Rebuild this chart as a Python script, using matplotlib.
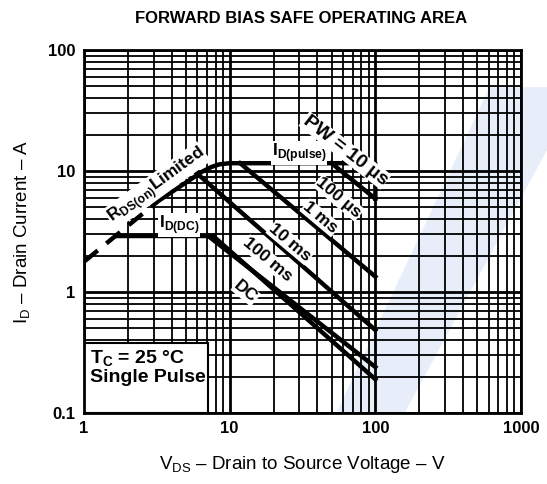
import matplotlib
matplotlib.use("Agg")
import matplotlib.pyplot as plt
from matplotlib.patches import Rectangle, Polygon
from matplotlib.ticker import LogLocator, FixedLocator, NullFormatter

plt.rcParams["font.family"] = ["Liberation Sans", "DejaVu Sans"]
plt.rcParams["mathtext.fontset"] = "custom"
plt.rcParams["mathtext.rm"] = "Liberation Sans"
plt.rcParams["mathtext.bf"] = "Liberation Sans:bold"

# ── Data (V in volts, I in amps) ──────────────────────────────────────────────
rds_dash_v = [1.0, 3.2]
rds_dash_i = [1.78, 5.6]

envelope_v = [3.2, 6.5, 7.5, 8.5, 10.0, 100.0, 100.0]
envelope_i = [5.6, 9.9, 10.8, 11.35, 11.6, 11.6, 5.9]

id_dc_v = [1.65, 7.7]
id_dc_i = [2.9, 2.9]

curves = {
    "100us": ([50.0, 100.0], [11.6, 5.9]),
    "1ms": ([11.8, 100.0], [11.6, 1.34]),
    "10ms": ([5.6, 100.0], [10.2, 0.485]),
    "100ms": ([7.0, 100.0], [2.95, 0.24]),
    "DC": ([7.7, 100.0], [2.9, 0.19]),
}

x_ticks = [1, 10, 100, 1000]
x_tick_labels = ["1", "10", "100", "1000"]
y_ticks = [0.1, 1, 10, 100]
y_tick_labels = ["0.1", "1", "10", "100"]

fig = plt.figure(figsize=(5.47, 4.84), dpi=100)
ax = fig.add_axes([0.1536, 0.1467, 0.7989, 0.75])

# faint watermark from the scan
wm = Polygon([(0.895, 0.82), (1.0, 0.82), (1.0, 0.69), (0.74, 0.147), (0.615, 0.147)],
             closed=True, transform=fig.transFigure, facecolor="#e8eef9",
             edgecolor="none", zorder=0.1, clip_on=False)
ax.add_patch(wm)

ax.set_xscale("log")
ax.set_yscale("log")
ax.set_xlim(1, 1000)
ax.set_ylim(0.1, 100)

ax.xaxis.set_major_locator(FixedLocator(x_ticks))
ax.yaxis.set_major_locator(FixedLocator(y_ticks))
ax.set_xticklabels(x_tick_labels, fontsize=12, fontweight="bold")
ax.set_yticklabels(y_tick_labels, fontsize=12, fontweight="bold")
ax.xaxis.set_minor_locator(LogLocator(base=10, subs=range(2, 10)))
ax.yaxis.set_minor_locator(LogLocator(base=10, subs=range(2, 10)))
ax.xaxis.set_minor_formatter(NullFormatter())
ax.yaxis.set_minor_formatter(NullFormatter())
ax.tick_params(which="both", length=0, pad=6)

ax.set_axisbelow(True)
ax.grid(which="major", color="black", linewidth=2.0)
ax.grid(which="minor", color="black", linewidth=1.3)
for s in ax.spines.values():
    s.set_linewidth(2.0)

# conditions box
ax.add_patch(Rectangle((1.0, 0.1), 6.1, 0.28, facecolor="white",
                       edgecolor="black", linewidth=1.5, zorder=2))
ax.text(1.1, 0.24, "T$_\\mathregular{C}$ = 25 °C\nSingle Pulse",
        fontsize=14, fontweight="bold", va="center", ha="left",
        linespacing=1.0, zorder=3)

# curves
lw = 3.2
ax.plot(rds_dash_v, rds_dash_i, color="black", lw=lw, ls=(0, (4, 2.5)), zorder=4)
ax.plot(envelope_v, envelope_i, color="black", lw=lw, zorder=4)
ax.plot(id_dc_v, id_dc_i, color="black", lw=lw, zorder=4)
for name, (v, i) in curves.items():
    ax.plot(v, i, color="black", lw=lw, zorder=4)

box = dict(facecolor="white", edgecolor="none", pad=0.5)
lab = dict(fontsize=12.5, fontweight="bold", ha="center", va="center",
           bbox=box, zorder=5)

ax.text(3.15, 7.6, "R$_\\mathregular{DS(on)}$Limited", rotation=36, **lab)
ax.text(4.5, 3.6, "I$_\\mathregular{D(DC)}$", **lab)
ax.text(30, 14.1, "I$_\\mathregular{D(pulse)}$", **lab)
ax.text(62, 14.8, "PW = 10 µs", rotation=-38, **dict(lab, fontsize=14))
ax.text(56, 6.0, "100 µs", rotation=-40, **lab)
ax.text(42, 4.1, "1 ms", rotation=-40, **lab)
ax.text(26, 2.55, "10 ms", rotation=-40, **lab)
ax.text(18.3, 1.84, "100 ms", rotation=-40, **lab)
ax.text(12.9, 1.0, "DC", rotation=-40, **lab)

ax.set_xlabel("V$_\\mathregular{DS}$ – Drain to Source Voltage – V",
              fontsize=13.5, labelpad=13)
ax.set_ylabel("I$_\\mathregular{D}$ – Drain Current – A", fontsize=13.5,
              labelpad=11)

fig.text(0.55, 0.962, "FORWARD BIAS SAFE OPERATING AREA", fontsize=12,
         fontweight="bold", ha="center", va="center")

fig.savefig("out.png", dpi=100)
